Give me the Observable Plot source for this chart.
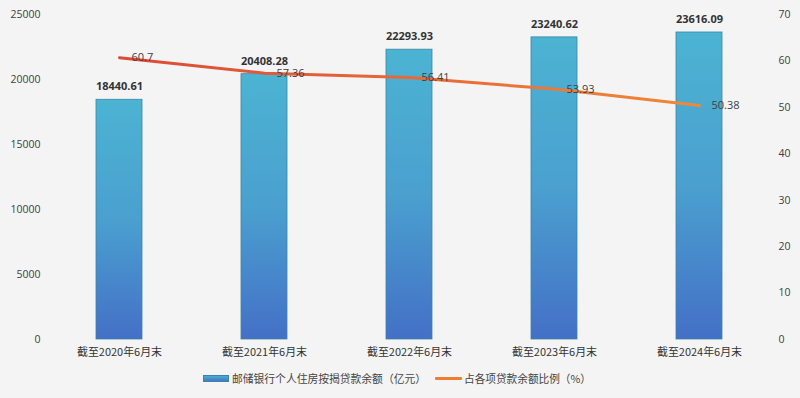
<!DOCTYPE html>
<html><head><meta charset="utf-8">
<script src="https://cdn.jsdelivr.net/npm/d3@7"></script>
<script src="https://cdn.jsdelivr.net/npm/@observablehq/plot@0.6"></script>
<style>
html,body{margin:0;padding:0;background:#f4f4f4;}
body{width:800px;height:398px;overflow:hidden;font-family:"Noto Sans CJK SC","Noto Sans",sans-serif;}
#chart{height:362px;}
#legend{display:block;}
</style></head>
<body>
<div id="chart"></div>
<svg id="legend" width="800" height="36">
  <defs>
    <linearGradient id="swGrad" x1="0" y1="0" x2="0" y2="1">
      <stop offset="0" stop-color="#4cb3d2"/>
      <stop offset="1" stop-color="#4470c6"/>
    </linearGradient>
  </defs>
  <rect x="203.5" y="13.5" width="25" height="6" fill="url(#swGrad)" stroke="#3a86a8" stroke-width="1"/>
  <text id="lg1" x="232" y="17" dy="0.36em" font-size="11" fill="#444" textLength="194" lengthAdjust="spacingAndGlyphs"></text>
  <rect x="435" y="15" width="27" height="3" rx="1" fill="#ee7d31"/>
  <text id="lg2" x="464" y="17" dy="0.36em" font-size="11" fill="#444" textLength="127" lengthAdjust="spacingAndGlyphs"></text>
</svg>
<script>
const categories = ["截至2020年6月末","截至2021年6月末","截至2022年6月末","截至2023年6月末","截至2024年6月末"];
const loanBalance = [18440.61, 20408.28, 22293.93, 23240.62, 23616.09];
const loanShare = [60.7, 57.36, 56.41, 53.93, 50.38];
const leftTicks = [0, 5000, 10000, 15000, 20000, 25000];
const rightTicks = [0, 10, 20, 30, 40, 50, 60, 70];
const seriesNames = ["邮储银行个人住房按揭贷款余额（亿元）", "占各项贷款余额比例（%）"];

const yMax = 25000, rMax = 70;
const toLeft = v => v * yMax / rMax;

const data = categories.map((c, i) => ({cat: c, bal: loanBalance[i], share: loanShare[i], shareY: toLeft(loanShare[i])}));

document.getElementById("lg1").textContent = seriesNames[0];
document.getElementById("lg2").textContent = seriesNames[1];

const chart = Plot.plot({
  width: 800,
  height: 362,
  marginTop: 14,
  marginBottom: 23,
  marginLeft: 44,
  marginRight: 27,
  style: {background: "transparent", fontFamily: "'Open Sans','Noto Sans CJK SC',sans-serif", color: "#404040"},
  x: {domain: categories, paddingInner: 0.685, paddingOuter: 0.3425, label: null},
  y: {domain: [0, yMax], label: null},
  marks: [
    () => {
      const ns = "http://www.w3.org/2000/svg";
      const defs = document.createElementNS(ns, "defs");
      defs.innerHTML = `
        <linearGradient id="barGrad" x1="0" y1="0" x2="0" y2="1">
          <stop offset="0" stop-color="#4cb3d2"/>
          <stop offset="0.5" stop-color="#4aa0cf"/>
          <stop offset="1" stop-color="#4470c6"/>
        </linearGradient>
        <linearGradient id="lineGrad" x1="0" y1="0" x2="1" y2="0">
          <stop offset="0" stop-color="#dc4a35"/>
          <stop offset="1" stop-color="#f0883a"/>
        </linearGradient>`;
      return defs;
    },
    Plot.gridY(leftTicks, {stroke: "#d6d6d6", strokeOpacity: 1, x1: 42, x2: 771}),
    Plot.axisY({ticks: leftTicks, tickSize: 0, tickPadding: 4, label: null, fontSize: 10.5, tickFormat: d => String(d)}),
    Plot.axisY({anchor: "right", ticks: rightTicks.map(toLeft), tickSize: 0, tickPadding: 5, label: null, fontSize: 10.5,
      tickFormat: d => String(Math.round(d * rMax / yMax))}),
    Plot.axisX({tickSize: 0, tickPadding: 9, label: null, fontSize: 11, fontFamily: "'Noto Sans CJK SC',serif", fill: "#333"}),
    Plot.barY(data, {x: "cat", y: "bal", fill: "url(#barGrad)", stroke: "#3a86a8", strokeWidth: 0.8}),
    Plot.text(data, {x: "cat", y: "bal", text: d => d.bal.toFixed(2), dy: -13, fontSize: 11, fontWeight: 700, fill: "#333"}),
    Plot.line(data, {x: "cat", y: "shareY", stroke: "url(#lineGrad)", strokeWidth: 3, curve: "linear"}),
    Plot.text(data, {x: "cat", y: "shareY", text: d => String(d.share), dx: 12, textAnchor: "start", fontSize: 11, fill: "#404040"})
  ]
});
chart.querySelectorAll('[aria-label="x-axis tick label"] text').forEach(t => {
  t.setAttribute("textLength", "85");
  t.setAttribute("lengthAdjust", "spacingAndGlyphs");
});
document.getElementById("chart").append(chart);
</script>
</body></html>
